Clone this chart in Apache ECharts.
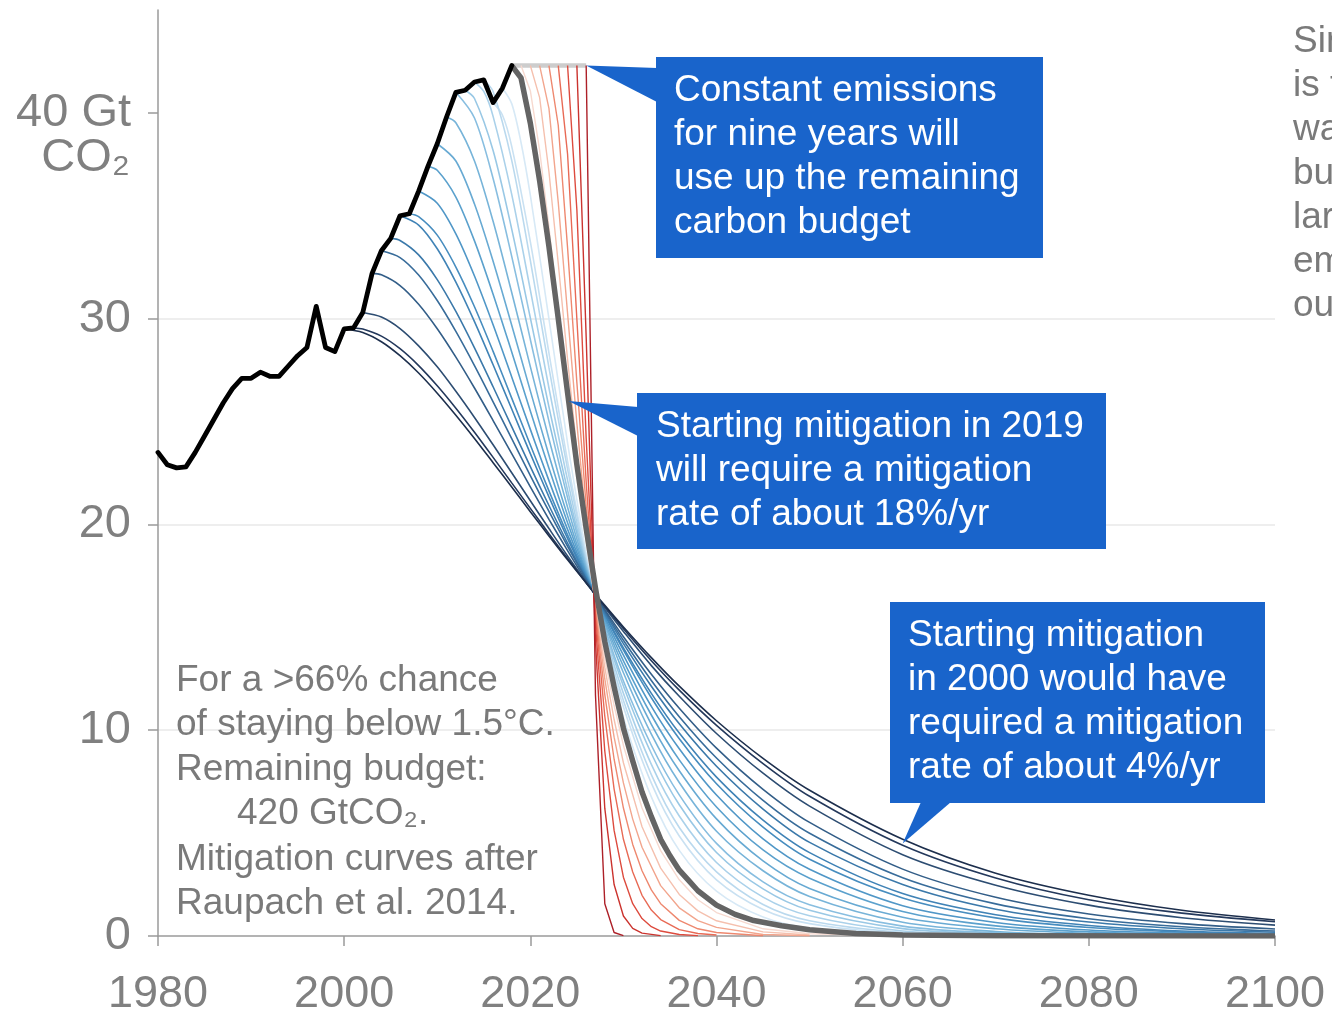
<!DOCTYPE html>
<html><head><meta charset="utf-8">
<script src="https://cdn.jsdelivr.net/npm/echarts@6/dist/echarts.min.js"></script>
<style>html,body{margin:0;padding:0;background:#fff;}#c{width:1332px;height:1017px;}</style>
</head><body><div id="c"></div>
<script>
// ---------- data (Gt CO2 per year) ----------
const histYears = [1980,1981,1982,1983,1984,1985,1986,1987,1988,1989,1990,1991,1992,1993,1994,1995,1996,1997,1998,1999,2000,2001,2002,2003,2004,2005,2006,2007,2008,2009,2010,2011,2012,2013,2014,2015,2016,2017,2018];
const histValues = [23.5,22.9,22.75,22.8,23.5,24.3,25.1,25.9,26.6,27.1,27.1,27.4,27.2,27.2,27.7,28.2,28.6,30.6,28.6,28.4,29.5,29.55,30.3,32.2,33.3,33.9,35.0,35.1,36.2,37.4,38.5,39.8,41.0,41.1,41.5,41.6,40.5,41.2,42.3];

// mitigation curves starting 2000..2017 (blue)
const mit2000 = [[2000,29.5],[2002,29.33],[2004,28.88],[2006,28.2],[2008,27.36],[2010,26.38],[2012,25.31],[2014,24.18],[2016,23.0],[2018,21.82],[2020,20.62],[2022,19.44],[2024,18.28],[2026,17.16],[2028,16.07],[2030,15.02],[2033,13.53],[2036,12.14],[2040,10.46],[2045,8.63],[2050,7.08],[2060,4.7],[2070,3.05],[2080,1.98],[2090,1.25],[2100,0.78]];
const mit2001 = [[2001,29.55],[2002,29.5],[2004,29.15],[2006,28.54],[2008,27.72],[2010,26.74],[2012,25.65],[2014,24.48],[2016,23.26],[2018,22.02],[2020,20.78],[2022,19.55],[2024,18.34],[2026,17.16],[2028,16.02],[2030,14.93],[2033,13.38],[2036,11.95],[2040,10.24],[2045,8.38],[2050,6.79],[2060,4.41],[2070,2.82],[2080,1.76],[2090,1.11],[2100,0.69]];
const mit2002 = [[2002,30.3],[2004,30.08],[2006,29.52],[2008,28.68],[2010,27.66],[2012,26.47],[2014,25.2],[2016,23.87],[2018,22.51],[2020,21.15],[2022,19.8],[2024,18.47],[2026,17.2],[2028,15.96],[2030,14.8],[2033,13.14],[2036,11.65],[2040,9.84],[2045,7.91],[2050,6.31],[2060,3.95],[2070,2.47],[2080,1.5],[2090,0.89],[2100,0.53]];
const mit2003 = [[2003,32.2],[2004,32.13],[2006,31.61],[2008,30.7],[2010,29.51],[2012,28.13],[2014,26.63],[2016,25.05],[2018,23.44],[2020,21.83],[2022,20.25],[2024,18.73],[2026,17.25],[2028,15.86],[2030,14.54],[2033,12.72],[2036,11.07],[2040,9.13],[2045,7.13],[2050,5.52],[2060,3.25],[2070,1.88],[2080,1.07],[2090,0.6],[2100,0.34]];
const mit2004 = [[2004,33.3],[2006,32.97],[2008,32.12],[2010,30.88],[2012,29.38],[2014,27.72],[2016,25.96],[2018,24.17],[2020,22.37],[2022,20.63],[2024,18.94],[2026,17.33],[2028,15.8],[2030,14.37],[2033,12.42],[2036,10.66],[2040,8.65],[2045,6.59],[2050,4.99],[2060,2.83],[2070,1.56],[2080,0.84],[2090,0.45],[2100,0.24]];
const mit2005 = [[2005,33.9],[2006,33.8],[2008,33.1],[2010,31.9],[2012,30.35],[2014,28.58],[2016,26.69],[2018,24.75],[2020,22.81],[2022,20.92],[2024,19.09],[2026,17.36],[2028,15.73],[2030,14.21],[2033,12.14],[2036,10.31],[2040,8.25],[2045,6.17],[2050,4.55],[2060,2.5],[2070,1.3],[2080,0.68],[2090,0.35],[2100,0.18]];
const mit2006 = [[2006,35.0],[2008,34.55],[2010,33.4],[2012,31.78],[2014,29.86],[2016,27.76],[2018,25.61],[2020,23.44],[2022,21.34],[2024,19.32],[2026,17.42],[2028,15.64],[2030,14.0],[2033,11.79],[2036,9.86],[2040,7.72],[2045,5.63],[2050,4.05],[2060,2.06],[2070,1.03],[2080,0.51],[2090,0.24],[2100,0.12]];
const mit2007 = [[2007,35.1],[2008,34.96],[2010,34.06],[2012,32.51],[2014,30.58],[2016,28.41],[2018,26.14],[2020,23.86],[2022,21.63],[2024,19.49],[2026,17.48],[2028,15.61],[2030,13.89],[2033,11.58],[2036,9.59],[2040,7.4],[2045,5.29],[2050,3.73],[2060,1.85],[2070,0.88],[2080,0.41],[2090,0.19],[2100,0.08]];
const mit2008 = [[2008,36.2],[2010,35.61],[2012,34.12],[2014,32.07],[2016,29.7],[2018,27.17],[2020,24.62],[2022,22.13],[2024,19.76],[2026,17.55],[2028,15.5],[2030,13.65],[2033,11.16],[2036,9.1],[2040,6.85],[2045,4.72],[2050,3.24],[2060,1.47],[2070,0.66],[2080,0.29],[2090,0.13],[2100,0.05]];
const mit2009 = [[2009,37.4],[2010,37.21],[2012,35.91],[2014,33.78],[2016,31.19],[2018,28.38],[2020,25.51],[2022,22.73],[2024,20.08],[2026,17.63],[2028,15.39],[2030,13.37],[2033,10.74],[2036,8.56],[2040,6.27],[2045,4.18],[2050,2.81],[2060,1.19],[2070,0.49],[2080,0.2],[2090,0.08],[2100,0.03]];
const mit2010 = [[2010,38.5],[2012,37.66],[2014,35.57],[2016,32.79],[2018,29.68],[2020,26.49],[2022,23.36],[2024,20.42],[2026,17.71],[2028,15.27],[2030,13.1],[2033,10.29],[2036,8.03],[2040,5.69],[2045,3.65],[2050,2.31],[2060,0.91],[2070,0.35],[2080,0.13],[2090,0.05],[2100,0.02]];
const mit2011 = [[2011,39.8],[2012,39.52],[2014,37.66],[2016,34.73],[2018,31.27],[2020,27.67],[2022,24.15],[2024,20.84],[2026,17.83],[2028,15.16],[2030,12.79],[2033,9.81],[2036,7.46],[2040,5.09],[2045,3.17],[2050,1.92],[2060,0.67],[2070,0.22],[2080,0.07],[2100,0.01]];
const mit2012 = [[2012,41.0],[2014,39.75],[2016,36.81],[2018,33.03],[2020,28.99],[2022,25.01],[2024,21.3],[2026,17.93],[2028,14.99],[2030,12.39],[2033,9.27],[2036,6.86],[2040,4.5],[2045,2.63],[2050,1.52],[2060,0.48],[2070,0.15],[2080,0.05],[2100,0.0]];
const mit2013 = [[2013,41.1],[2014,40.7],[2016,38.17],[2018,34.35],[2020,30.04],[2022,25.71],[2024,21.67],[2026,18.04],[2028,14.87],[2030,12.15],[2033,8.87],[2036,6.38],[2040,4.06],[2045,2.29],[2050,1.25],[2060,0.36],[2070,0.1],[2080,0.03],[2100,0.0]];
const mit2014 = [[2014,41.5],[2015,41.04],[2016,39.83],[2018,36.04],[2020,31.4],[2022,26.63],[2024,22.15],[2026,18.15],[2028,14.7],[2030,11.79],[2033,8.34],[2036,5.83],[2040,3.57],[2045,1.89],[2050,0.98],[2060,0.24],[2070,0.06],[2080,0.02],[2100,0.0]];
const mit2015 = [[2015,41.6],[2016,41.04],[2018,37.69],[2020,32.83],[2022,27.62],[2024,22.69],[2026,18.29],[2028,14.54],[2030,11.44],[2033,7.84],[2036,5.27],[2040,3.12],[2045,1.53],[2050,0.74],[2060,0.17],[2070,0.04],[2100,0.0]];
const mit2016 = [[2016,40.5],[2017,39.9],[2018,38.37],[2020,33.74],[2022,28.33],[2024,23.08],[2026,18.39],[2028,14.39],[2030,11.14],[2033,7.43],[2036,4.86],[2040,2.73],[2045,1.29],[2050,0.6],[2060,0.11],[2070,0.02],[2100,0.0]];
const mit2017 = [[2017,41.2],[2018,40.45],[2019,38.56],[2020,36.0],[2022,29.99],[2024,23.96],[2026,18.6],[2028,14.14],[2030,10.62],[2033,6.76],[2036,4.16],[2040,2.18],[2045,0.92],[2050,0.38],[2060,0.06],[2070,0.01],[2100,0.0]];

// mitigation starting 2019 (thick grey)
const mit2019 = [[2018,42.3],[2019,41.7],[2020,39.5],[2021,36.7],[2022,33.5],[2023,30.0],[2024,26.4],[2025,22.9],[2026,19.8],[2027,16.9],[2028,14.3],[2029,12.1],[2030,10.1],[2031,8.5],[2032,7.0],[2033,5.8],[2034,4.7],[2035,3.9],[2036,3.2],[2037,2.7],[2038,2.2],[2040,1.5],[2042,1.05],[2044,0.75],[2047,0.5],[2050,0.3],[2055,0.12],[2060,0.05],[2070,0.01],[2100,0.0]];

// constant emissions, then later mitigation (red)
const plateau = [[2018,42.3],[2026,42.3]];
const late2019 = [[2019,42.3],[2020,41.08],[2021,38.18],[2022,34.45],[2023,30.41],[2024,26.4],[2025,22.62],[2026,19.21],[2027,16.17],[2028,13.5],[2029,11.2],[2030,9.26],[2032,6.22],[2034,4.15],[2036,2.73],[2038,1.76],[2040,1.14],[2045,0.35],[2050,0.11],[2060,0.01]];
const late2020 = [[2020,42.3],[2021,40.74],[2022,37.14],[2023,32.68],[2024,28.03],[2025,23.59],[2026,19.58],[2027,16.06],[2028,13.05],[2029,10.52],[2030,8.42],[2032,5.31],[2034,3.3],[2036,2.02],[2038,1.22],[2040,0.74],[2045,0.2],[2050,0.05]];
const late2021 = [[2021,42.3],[2022,40.22],[2023,35.65],[2024,30.26],[2025,24.91],[2026,20.09],[2027,15.96],[2028,12.49],[2029,9.66],[2030,7.44],[2031,5.68],[2032,4.31],[2034,2.45],[2036,1.37],[2038,0.75],[2040,0.42],[2045,0.07],[2050,0.01]];
const late2022 = [[2022,42.3],[2023,39.4],[2024,33.45],[2025,26.89],[2026,20.87],[2027,15.81],[2028,11.73],[2029,8.59],[2030,6.22],[2031,4.45],[2032,3.17],[2033,2.24],[2034,1.57],[2036,0.76],[2038,0.35],[2040,0.17],[2045,0.01]];
const late2023 = [[2023,42.3],[2024,38.0],[2025,29.97],[2026,22.06],[2027,15.57],[2028,10.68],[2029,7.14],[2030,4.7],[2031,3.11],[2032,1.98],[2033,1.26],[2034,0.8],[2036,0.31],[2038,0.12],[2040,0.05]];
const late2024 = [[2024,42.3],[2025,35.29],[2026,24.19],[2027,15.14],[2028,8.98],[2029,5.13],[2030,2.86],[2031,1.57],[2032,0.85],[2033,0.45],[2034,0.24],[2036,0.07],[2038,0.02]];
const late2025 = [[2025,42.3],[2026,29.1],[2027,14.3],[2028,6.2],[2029,2.5],[2030,0.97],[2031,0.37],[2032,0.14],[2034,0.02]];
const late2026 = [[2026,42.3],[2027,11.7],[2028,1.57],[2029,0.17],[2030,0.02]];

const xTicks = [1980, 2000, 2020, 2040, 2060, 2080, 2100];
const yTicks = [0, 10, 20, 30, 40];

// ---------- styling ----------
const blueCurves = [mit2000,mit2001,mit2002,mit2003,mit2004,mit2005,mit2006,mit2007,mit2008,mit2009,mit2010,mit2011,mit2012,mit2013,mit2014,mit2015,mit2016,mit2017];
const blueColors = ['#1d2f4d','#24395c','#2d4d72','#335e88','#386c9a','#3b79aa','#4083b6','#478dbf','#5097c7','#5ba1cd','#68aad3','#77b4d9','#88bee0','#99c8e5','#aad1ea','#bad9ee','#c9e1f2','#d7e9f6'];
const redCurves = [late2019,late2020,late2021,late2022,late2023,late2024,late2025,late2026];
const redColors = ['#f7d9cf','#f5c0ae','#f2a58d','#ee886f','#e86a55','#dd4b3e','#cb332e','#ad2028'];

const FONT = '"Liberation Sans", Arial, Helvetica, sans-serif';
const AX = '#808080';
const series = [];
for (let i = blueCurves.length - 1; i >= 0; i--) {
  series.push({type:'line', data: blueCurves[i], smooth: 0.3, symbol:'none', silent:true,
    lineStyle:{color: blueColors[i], width: 1.6}, z: 2});
}
series.push({type:'line', data: plateau, symbol:'none', silent:true, lineStyle:{color:'#cdcdcd', width:4.5}, z:3});
redCurves.forEach((d, i) => series.push({type:'line', data: d, smooth:false, symbol:'none', silent:true,
  lineStyle:{color: redColors[i], width: 1.4}, z: 4}));
series.push({type:'line', data: mit2019, smooth:false, symbol:'none', silent:true, lineStyle:{color:'#646464', width:5.5, join:'round'}, z:5});
series.push({type:'line', data: histYears.map((y, i) => [y, histValues[i]]), smooth:false, symbol:'none', silent:true,
  lineStyle:{color:'#000', width:4.8, join:'round', cap:'round'}, z:6});

const chart = echarts.init(document.getElementById('c'));
chart.setOption({
  animation: false,
  backgroundColor: '#fff',
  grid: {left:158, right:57, top:10, bottom:80},
  xAxis: {type:'value', min:1980, max:2100, interval:20,
    axisLine:{lineStyle:{color:'#9a9a9a', width:1.5}},
    axisTick:{length:10, lineStyle:{color:'#9a9a9a', width:1.5}},
    axisLabel:{fontSize:45, color:AX, margin:36, fontFamily:FONT, customValues: xTicks,
      formatter: v => String(v)},
    splitLine:{show:false}},
  yAxis: {type:'value', min:0, max:45, interval:10,
    axisLine:{show:true, lineStyle:{color:'#9a9a9a', width:1.5}},
    axisTick:{show:true, length:10, lineStyle:{color:'#9a9a9a', width:1.5}, customValues: yTicks},
    axisLabel:{fontSize:47, color:AX, margin:27, fontFamily:FONT, customValues: yTicks,
      formatter: v => v === 40 ? '40 Gt' : (v === 45 ? '' : String(v))},
    splitLine:{show:true, showMinLine:false, showMaxLine:false, lineStyle:{color:'#e8e8e8', width:1.5}}},
  series: series
});

// ---------- annotations ----------
const px = p => chart.convertToPixel({gridIndex:0}, p);
const tip1 = px([2026, 42.3]);
const tip2 = px([2024.1, 26.0]);
const tip3 = px([2060, 4.5]);
const BOX = '#1964cb';
const boxText = (x, y, txt) => ({type:'text', x:x, y:y, z:20, silent:true,
  style:{text:txt, fill:'#fff', font:'37px ' + FONT, lineHeight:44, align:'left', verticalAlign:'top'}});
const greyLine = (x, y, txt) => ({type:'text', x:x, y:y, z:20, silent:true,
  style:{text:txt, fill:'#7a7a7a', font:'37px ' + FONT, align:'left', verticalAlign:'middle'}});

const g = [
  {type:'polygon', z:15, silent:true, shape:{points:[tip1, [657,68], [657,102]]}, style:{fill:BOX}},
  {type:'rect', z:15, silent:true, shape:{x:656, y:57, width:387, height:201}, style:{fill:BOX}},
  boxText(674, 69, 'Constant emissions\nfor nine years will\nuse up the remaining\ncarbon budget'),
  {type:'polygon', z:15, silent:true, shape:{points:[tip2, [638,407], [638,436]]}, style:{fill:BOX}},
  {type:'rect', z:15, silent:true, shape:{x:637, y:393, width:469, height:156}, style:{fill:BOX}},
  boxText(656, 405, 'Starting mitigation in 2019\nwill require a mitigation\nrate of about 18%/yr'),
  {type:'polygon', z:15, silent:true, shape:{points:[[921,802], [951,802], tip3]}, style:{fill:BOX}},
  {type:'rect', z:15, silent:true, shape:{x:890, y:602, width:375, height:201}, style:{fill:BOX}},
  boxText(908, 614, 'Starting mitigation\nin 2000 would have\nrequired a mitigation\nrate of about 4%/yr'),
  greyLine(176, 681, 'For a >66% chance'),
  greyLine(176, 725, 'of staying below 1.5°C.'),
  greyLine(176, 770, 'Remaining budget:'),
  greyLine(237, 814, '420 GtCO₂.'),
  greyLine(176, 860, 'Mitigation curves after'),
  greyLine(176, 904, 'Raupach et al. 2014.'),
  {type:'text', x:130, y:158, z:20, silent:true, style:{text:'CO₂', fill:AX, font:'47px ' + FONT, align:'right', verticalAlign:'middle'}}
];
const rightLines = ['Since', 'is the', 'way', 'budget', 'large', 'emissions', 'out'];
rightLines.forEach((t, i) => g.push(greyLine(1293, 42 + i * 44, t)));
chart.setOption({graphic: g});
</script>
</body></html>
